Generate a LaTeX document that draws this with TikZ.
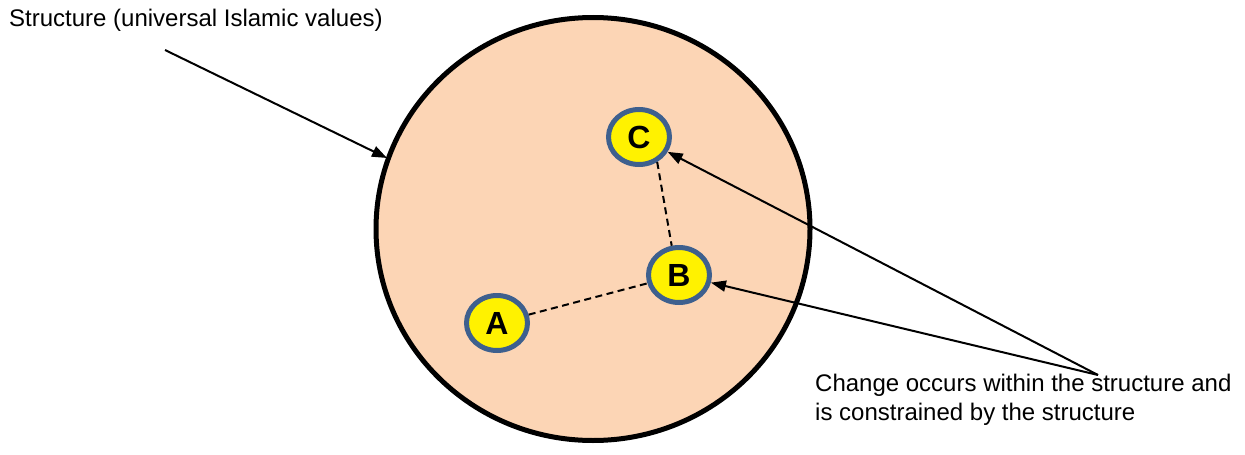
\documentclass[tikz,border=0pt]{standalone}
\usepackage{fontspec}
\setmainfont{Liberation Sans}
\usetikzlibrary{shapes.geometric,arrows.meta}
\definecolor{peach}{RGB}{252,213,181}
\definecolor{ringblue}{RGB}{62,96,142}
\begin{document}
\begin{tikzpicture}[x=1pt,y=-1pt,
  structure/.style={ellipse,draw=black,line width=5pt,fill=peach,
    minimum width=434pt,minimum height=423pt,inner sep=0pt},
  pointnode/.style={ellipse,draw=ringblue,line width=5pt,fill=yellow,
    minimum width=61pt,minimum height=55pt,inner sep=0pt,
    font=\fontsize{32}{32}\selectfont\bfseries},
  link/.style={dashed,line width=2pt,dash pattern=on 7pt off 4.5pt},
  pointer/.style={line width=2pt,-{Triangle[length=15pt,width=11pt]}},
  caption/.style={font=\fontsize{24}{29}\selectfont,inner sep=0pt}]
\path[use as bounding box] (0,0) rectangle (1245,455);
\node[structure] (big) at (593,229) {};
\node[pointnode] (C) at (639,137) {C};
\node[pointnode] (B) at (679,275) {B};
\node[pointnode] (A) at (497,323) {A};
\draw[link] (A) -- (B);
\draw[link] (C.-54) -- (B.104);
\node[caption,anchor=base west] (title) at (9,27) {Structure (universal Islamic values)};
\node[caption,anchor=base west,align=left] (note) at (815,420)
  {Change occurs within the structure and\\is constrained by the structure};
\coordinate (tail) at (165,50);
\coordinate (tip) at (387,158);
\coordinate (fork) at (1098,375);
\draw[pointer] (tail) -- (tip);
\draw[pointer] (fork) -- (C);
\draw[pointer] (fork) -- (B);
\end{tikzpicture}
\end{document}
